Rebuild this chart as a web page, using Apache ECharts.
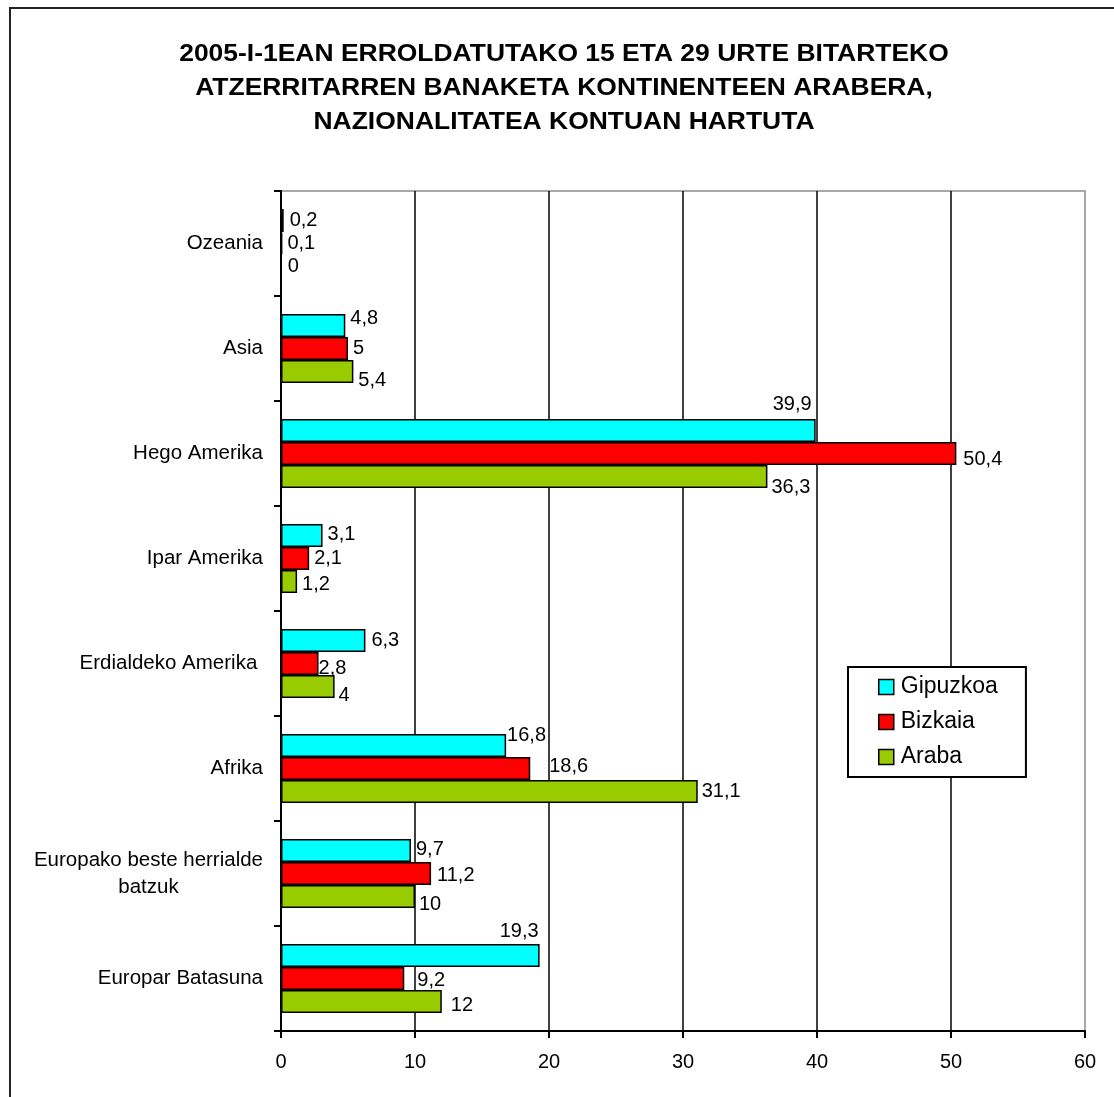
<!DOCTYPE html>
<html>
<head>
<meta charset="utf-8">
<script src="https://cdn.jsdelivr.net/npm/echarts@6/dist/echarts.min.js"></script>
<style>
  html, body { margin: 0; padding: 0; background: #ffffff; }
  #chart { width: 1114px; height: 1097px; }
</style>
</head>
<body>
<div id="chart"></div>
<script>
// ---- data ----
const titleLines = [
  '2005-I-1EAN ERROLDATUTAKO 15 ETA 29 URTE BITARTEKO',
  'ATZERRITARREN BANAKETA KONTINENTEEN ARABERA,',
  'NAZIONALITATEA KONTUAN HARTUTA'
];
const categories = ['Ozeania', 'Asia', 'Hego Amerika', 'Ipar Amerika', 'Erdialdeko Amerika ', 'Afrika', 'Europako beste herrialde batzuk', 'Europar Batasuna'];
const seriesNames = ['Gipuzkoa', 'Bizkaia', 'Araba'];
const gipuzkoa = [0.2, 4.8, 39.9, 3.1, 6.3, 16.8, 9.7, 19.3];
const bizkaia  = [0.1, 5, 50.4, 2.1, 2.8, 18.6, 11.2, 9.2];
const araba    = [0, 5.4, 36.3, 1.2, 4, 31.1, 10, 12];
const xTicks = [0, 10, 20, 30, 40, 50, 60];

// ---- styling ----
const FONT = "'Liberation Sans', Arial, sans-serif";
const colors = ['#00FFFF', '#FF0000', '#99CC00'];
// label nudges (style only): key "categoryIndex|seriesIndex" -> [dx, dy]
const labelNudge = {
  '0|0': [1, 0], '0|2': [1, 0],
  '1|0': [0, -7], '1|2': [0, 9],
  '2|0': [-4, -5], '2|1': [2, 6], '2|2': [-1, 11],
  '3|0': [0, -1], '3|2': [0, 3],
  '4|0': [1, 0], '4|1': [-5, 5], '4|2': [-1, 9],
  '5|0': [-4, -10], '5|1': [14, -2], '5|2': [-1, 0],
  '6|0': [0, -1], '6|1': [1, 2], '6|2': [-1, 8],
  '7|0': [-1, -3], '7|1': [8, 2], '7|2': [4, 4]
};
// labels placed above the bar end instead of to its right
const labelAbove = { '2|0': true, '7|0': true };

const fmt = v => String(v).replace('.', ',');
const valuesBySeries = [gipuzkoa, bizkaia, araba];

function buildData(si) {
  return valuesBySeries[si].map((v, ci) => {
    if (!labelAbove[ci + '|' + si]) return { value: v };
    return {
      value: v,
      label: { position: ['100%', 0], align: 'right', verticalAlign: 'bottom' }
    };
  });
}

function wrapLabel(s) {
  const t = s.trim();
  if (t.length <= 22) return s;
  const words = t.split(' ');
  const lines = [];
  let cur = '';
  words.forEach(w => {
    if ((cur + ' ' + w).trim().length > 24) { lines.push(cur); cur = w; }
    else cur = (cur + ' ' + w).trim();
  });
  lines.push(cur);
  return lines.map((l, i) => i === 0 ? '{l|' + l + '}' : '{c|' + l + '}').join('\n');
}

const chart = echarts.init(document.getElementById('chart'), null, { renderer: 'canvas' });

const option = {
  backgroundColor: '#ffffff',
  animation: false,
  graphic: [
    {
      type: 'rect', z: -10, silent: true,
      shape: { x: 10, y: 8, width: 1200, height: 1200 },
      style: { fill: 'none', stroke: '#222', lineWidth: 2 }
    },
    {
      type: 'text', x: 564, y: 89, scaleX: 1.15, z: 10,
      style: {
        text: titleLines.join('\n'),
        font: 'bold 23px ' + FONT,
        fill: '#000',
        textAlign: 'center',
        textVerticalAlign: 'middle',
        lineHeight: 34
      }
    }
  ],
  legend: {
    data: seriesNames,
    orient: 'vertical',
    left: 848, top: 667,
    padding: [8, 28, 8, 30],
    itemGap: 11,
    itemWidth: 15, itemHeight: 15,
    icon: 'rect',
    backgroundColor: '#ffffff',
    borderColor: '#000',
    borderWidth: 2,
    textStyle: { fontSize: 23, fontFamily: FONT, color: '#000', lineHeight: 24, padding: [0, 0, 0, 2] },
    itemStyle: { borderColor: '#000', borderWidth: 1.5 }
  },
  grid: {
    left: 281, right: 29, top: 191, bottom: 66,
    show: true, borderColor: '#a8a8a8', borderWidth: 2, backgroundColor: 'transparent'
  },
  xAxis: {
    type: 'value', min: xTicks[0], max: xTicks[xTicks.length - 1], interval: 10,
    axisLine: { show: true, lineStyle: { color: '#000', width: 2 } },
    axisTick: { show: true, length: 7, lineStyle: { color: '#000', width: 2 } },
    axisLabel: { fontSize: 20, fontFamily: FONT, color: '#000', margin: 21, formatter: v => fmt(v) },
    splitLine: { show: true, lineStyle: { color: ['#000', '#000', '#000', '#000', '#000', '#000', '#a8a8a8'], width: 1.5 } }
  },
  yAxis: {
    type: 'category', data: categories, inverse: true,
    axisLine: { show: true, lineStyle: { color: '#000', width: 2 } },
    axisTick: { show: true, length: 7, lineStyle: { color: '#000', width: 2 } },
    axisLabel: {
      fontSize: 20.5, fontFamily: FONT, color: '#000', margin: 18, lineHeight: 27,
      formatter: wrapLabel,
      rich: {
        l: { fontSize: 20.5, fontFamily: FONT, color: '#000', lineHeight: 27 },
        c: { fontSize: 20.5, fontFamily: FONT, color: '#000', lineHeight: 27, align: 'center' }
      }
    },
    splitLine: { show: false }
  },
  series: seriesNames.map((name, si) => ({
    name: name,
    type: 'bar',
    data: buildData(si),
    barWidth: 23,
    barGap: '0%',
    barMinWidth: 0,
    itemStyle: { color: colors[si], borderColor: '#000', borderWidth: 1.5 },
    label: {
      show: true, position: 'right', distance: 5,
      fontSize: 20, fontFamily: FONT, color: '#000',
      formatter: p => fmt(p.value)
    },
    labelLayout: function (params) {
      const n = labelNudge[params.dataIndex + '|' + params.seriesIndex] || [0, 0];
      return { dx: n[0], dy: n[1], hideOverlap: false };
    }
  }))
};

chart.setOption(option);
</script>
</body>
</html>
